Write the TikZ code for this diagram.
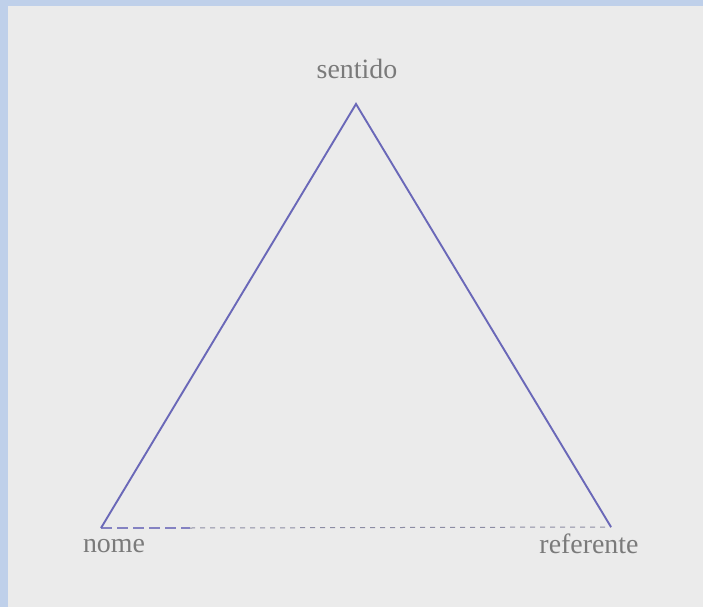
\documentclass[tikz,border=0pt]{standalone}
\usepackage{fontspec}
\setmainfont{Liberation Serif}
\usepackage{tikz}
\usetikzlibrary{positioning}
\definecolor{Frame}{HTML}{BFD0EA}
\definecolor{Paper}{HTML}{EBEBEB}
\definecolor{Side}{HTML}{6A68B8}
\definecolor{Base}{HTML}{8C8CA4}
\definecolor{Word}{HTML}{7A7A7A}

\begin{document}
\begin{tikzpicture}[x=1bp,y=-1bp,
    word/.style={font=\fontsize{28}{30}\selectfont,text=Word,anchor=base,inner sep=0pt},
    side/.style={draw=Side,line width=1.9bp,line join=miter},
    base/.style={draw=Base,line width=1bp,dash pattern=on 5bp off 5bp},
    lead/.style={draw=Side!80!Paper,line width=1.3bp,dash pattern=on 11bp off 5bp}]
  % fundo
  \fill[Frame] (0,0) rectangle (703,607);
  \fill[Paper] (8,6) rectangle (703,607);
  \useasboundingbox (0,0) rectangle (703,607);
  % vertices
  \coordinate (topo) at (356,104);
  \coordinate (esq) at (101,528);
  \coordinate (dir) at (611,527);
  \coordinate (meio) at (190,528);
  % lados
  \draw[base] (meio) -- (dir);
  \draw[lead] (esq) -- (meio);
  \draw[side] (esq) -- (topo) -- (dir);
  % rotulos
  \node[word] (sentido) at (357,79) {sentido};
  \node[word] (nome) at (114,552) {nome};
  \node[word] (referente) at (589,553) {referente};
\end{tikzpicture}
\end{document}
